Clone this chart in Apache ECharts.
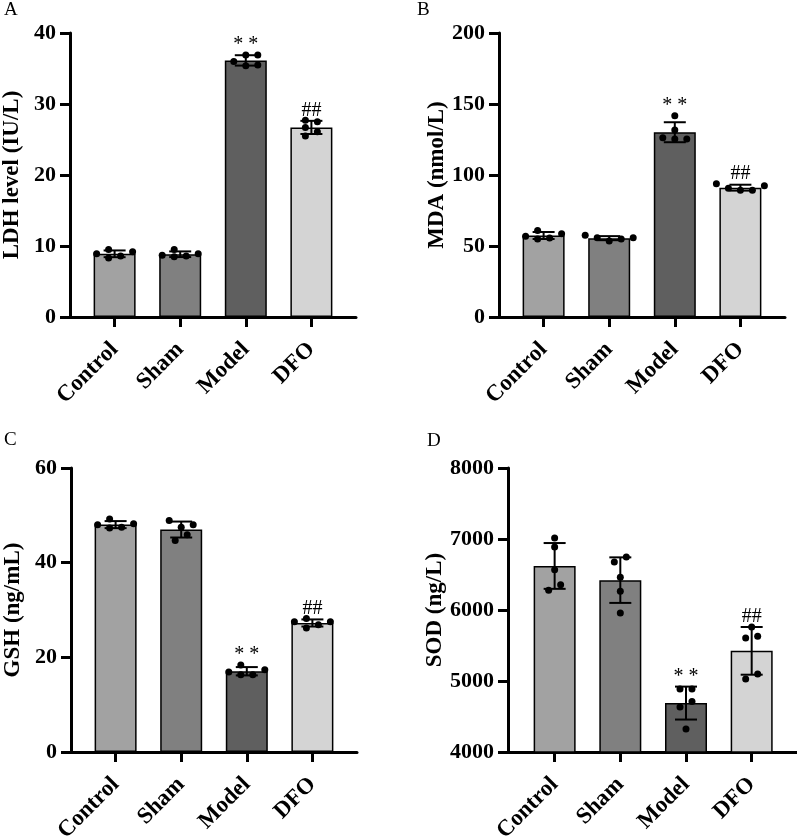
<!DOCTYPE html>
<html>
<head>
<meta charset="utf-8">
<script src="https://cdn.jsdelivr.net/npm/echarts@6/dist/echarts.min.js"></script>
<style>
  html, body { margin: 0; padding: 0; background: #fff; }
  #main { width: 797px; height: 838px; }
</style>
</head>
<body>
<div id="main"></div>
<script>
// groups on the x axis
var categories = ['Control', 'Sham', 'Model', 'DFO'];
// significance marks above each group
var marks = ['', '', '* *', '##'];

var ldhValues = [
    [9.2, 8.3, 9.5, 8.6, 8.9],
    [9.5, 8.5, 8.9, 8.6, 8.7],
    [36.9, 36.9, 35.4, 36.0, 35.5],
    [27.5, 27.7, 26.7, 26.1, 25.5]
];
var mdaValues = [
    [61.0, 54.9, 58.7, 55.6, 56.8],
    [54.9, 57.5, 55.8, 55.8, 53.6],
    [141.8, 131.7, 125.4, 126.3, 125.4],
    [93.9, 92.5, 89.2, 89.2, 90.6]
];
var gshValues = [
    [49.2, 47.3, 48.2, 47.5, 48.0],
    [48.0, 48.9, 47.5, 45.9, 44.7],
    [18.4, 16.3, 17.4, 16.3, 16.9],
    [28.2, 26.2, 27.5, 26.9, 27.5]
];
var sodValues = [
    [7014, 6887, 6568, 6357, 6277],
    [6746, 6676, 6460, 6263, 5958],
    [4887, 4887, 4713, 4634, 4324],
    [5761, 5606, 5629, 5099, 5028]
];

var barColors = ['#a2a2a2', '#808080', '#5f5f5f', '#d4d4d4'];
var FONT = "'Liberation Serif', 'Times New Roman', serif";

var panels = [
    {letter: 'A', values: ldhValues, name: 'LDH level (IU/L)', min: 0, max: 40, interval: 10,
     grid: {left: 70, top: 33, width: 286, height: 284}, xMin: -0.68, xMax: 3.68, lx: 4, ly: 1},
    {letter: 'B', values: mdaValues, name: 'MDA (nmol/L)', min: 0, max: 200, interval: 50,
     grid: {left: 499, top: 33, width: 286, height: 284}, xMin: -0.68, xMax: 3.68, lx: 417, ly: 1},
    {letter: 'C', values: gshValues, name: 'GSH (ng/mL)', min: 0, max: 60, interval: 20,
     grid: {left: 71, top: 468, width: 286, height: 284}, xMin: -0.68, xMax: 3.68, lx: 4, ly: 431},
    {letter: 'D', values: sodValues, name: 'SOD (ng/L)', min: 4000, max: 8000, interval: 1000,
     grid: {left: 508, top: 468, width: 289, height: 284}, xMin: -0.71, xMax: 3.69, lx: 427, ly: 432}
];

function mean(a) {
    return a.reduce(function (s, v) { return s + v; }, 0) / a.length;
}
function sd(a) {
    var m = mean(a);
    return Math.sqrt(a.reduce(function (s, v) { return s + (v - m) * (v - m); }, 0) / (a.length - 1));
}

// simple beeswarm: spread dots sideways when they would overlap,
// then centre every cluster of touching dots on the bar
function swarm(vals, pxPerUnit) {
    var step = 12, d = 7;
    var order = vals.map(function (v, i) { return i; }).sort(function (a, b) { return vals[a] - vals[b]; });
    var placed = [], off = [];
    order.forEach(function (i) {
        var y = vals[i] * pxPerUnit;
        for (var k = 0; k < 20; k++) {
            var dx = k === 0 ? 0 : (k % 2 ? 1 : -1) * Math.ceil(k / 2) * step;
            var hit = placed.some(function (p) { return Math.abs(p.x - dx) < d && Math.abs(p.y - y) < d; });
            if (!hit) { placed.push({x: dx, y: y}); off[i] = dx; break; }
        }
    });
    // clusters: chains of dots closer than d vertically
    var clusters = [], cur = [];
    order.forEach(function (i, n) {
        if (n > 0 && (vals[i] - vals[order[n - 1]]) * pxPerUnit >= d) { clusters.push(cur); cur = []; }
        cur.push(i);
    });
    clusters.push(cur);
    clusters.forEach(function (c) {
        var lo = Math.min.apply(null, c.map(function (i) { return off[i]; }));
        var hi = Math.max.apply(null, c.map(function (i) { return off[i]; }));
        var shift = -(lo + hi) / 2;
        c.forEach(function (i) { off[i] += shift; });
    });
    return off;
}

var axisStyle = {color: '#000', width: 3};
var tickFont = {fontFamily: FONT, fontWeight: 'bold', fontSize: 22, color: '#000'};
var catFont = {fontFamily: FONT, fontWeight: 'bold', fontSize: 23, color: '#000'};
var nameFont = {fontFamily: FONT, fontWeight: 'bold', fontSize: 23, color: '#000'};

var option = {
    animation: false,
    backgroundColor: '#fff',
    title: [], grid: [], xAxis: [], yAxis: [], series: []
};

panels.forEach(function (p, gi) {
    var means = p.values.map(mean);
    var sds = p.values.map(sd);
    var pxPerUnit = p.grid.height / (p.max - p.min);

    option.title.push({
        text: p.letter, left: p.lx, top: p.ly, padding: 0,
        textStyle: {fontFamily: FONT, fontWeight: 'normal', fontSize: 19, color: '#000'}
    });
    option.grid.push(Object.assign({outerBoundsMode: 'none', containLabel: false}, p.grid));
    option.xAxis.push({
        gridIndex: gi, type: 'value', min: p.xMin, max: p.xMax,
        splitLine: {show: false},
        axisLine: {show: true, onZero: false, lineStyle: axisStyle},
        axisTick: {show: true, customValues: [0, 1, 2, 3], length: 10, lineStyle: axisStyle},
        axisLabel: Object.assign({
            customValues: [0, 1, 2, 3], rotate: 45, margin: 29,
            formatter: function (v) { return categories[Math.round(v)]; }
        }, catFont)
    });
    option.yAxis.push({
        gridIndex: gi, type: 'value', min: p.min, max: p.max, interval: p.interval,
        name: p.name, nameLocation: 'middle', nameGap: 46,
        nameTextStyle: nameFont,
        splitLine: {show: false},
        axisLine: {show: true, onZero: false, lineStyle: axisStyle},
        axisTick: {show: true, length: 10, lineStyle: axisStyle},
        axisLabel: Object.assign({margin: 14, formatter: function (v) { return String(v); }}, tickFont)
    });

    // bars (group means)
    option.series.push({
        type: 'bar', xAxisIndex: gi, yAxisIndex: gi, barWidth: 42, clip: true,
        data: means.map(function (m, i) {
            return {value: [i, m], itemStyle: {color: barColors[i], borderColor: '#000', borderWidth: 1.5}};
        })
    });

    // error bars: mean +/- SD
    option.series.push({
        type: 'custom', xAxisIndex: gi, yAxisIndex: gi, z: 3,
        data: means.map(function (m, i) { return [i, m, sds[i]]; }),
        renderItem: function (params, api) {
            var x = api.value(0), m = api.value(1), s = api.value(2);
            var top = api.coord([x, m + s]), bot = api.coord([x, m - s]);
            var half = 11, st = {stroke: '#000', lineWidth: 2};
            return {type: 'group', children: [
                {type: 'line', shape: {x1: top[0], y1: top[1], x2: bot[0], y2: bot[1]}, style: st},
                {type: 'line', shape: {x1: top[0] - half, y1: top[1], x2: top[0] + half, y2: top[1]}, style: st},
                {type: 'line', shape: {x1: bot[0] - half, y1: bot[1], x2: bot[0] + half, y2: bot[1]}, style: st}
            ]};
        }
    });

    // individual dots
    var dots = [];
    p.values.forEach(function (vals, i) {
        var off = swarm(vals, pxPerUnit);
        vals.forEach(function (v, j) { dots.push([i, v, off[j]]); });
    });
    option.series.push({
        type: 'custom', xAxisIndex: gi, yAxisIndex: gi, z: 4,
        data: dots,
        renderItem: function (params, api) {
            var c = api.coord([api.value(0), api.value(1)]);
            return {type: 'circle', shape: {cx: c[0] + api.value(2), cy: c[1], r: 3.5}, style: {fill: '#000'}};
        }
    });

    // significance marks
    option.series.push({
        type: 'custom', xAxisIndex: gi, yAxisIndex: gi, z: 5,
        data: means.map(function (m, i) { return [i, Math.max(m + sds[i], Math.max.apply(null, p.values[i]))]; }),
        renderItem: function (params, api) {
            var txt = marks[params.dataIndex];
            if (!txt) return null;
            var c = api.coord([api.value(0), api.value(1)]);
            return {type: 'text', x: c[0], y: c[1],
                style: {text: txt, fontFamily: FONT, fontSize: 20, fill: '#000', align: 'center', verticalAlign: 'bottom'}};
        }
    });
});

var chart = echarts.init(document.getElementById('main'));
chart.setOption(option);
</script>
</body>
</html>
